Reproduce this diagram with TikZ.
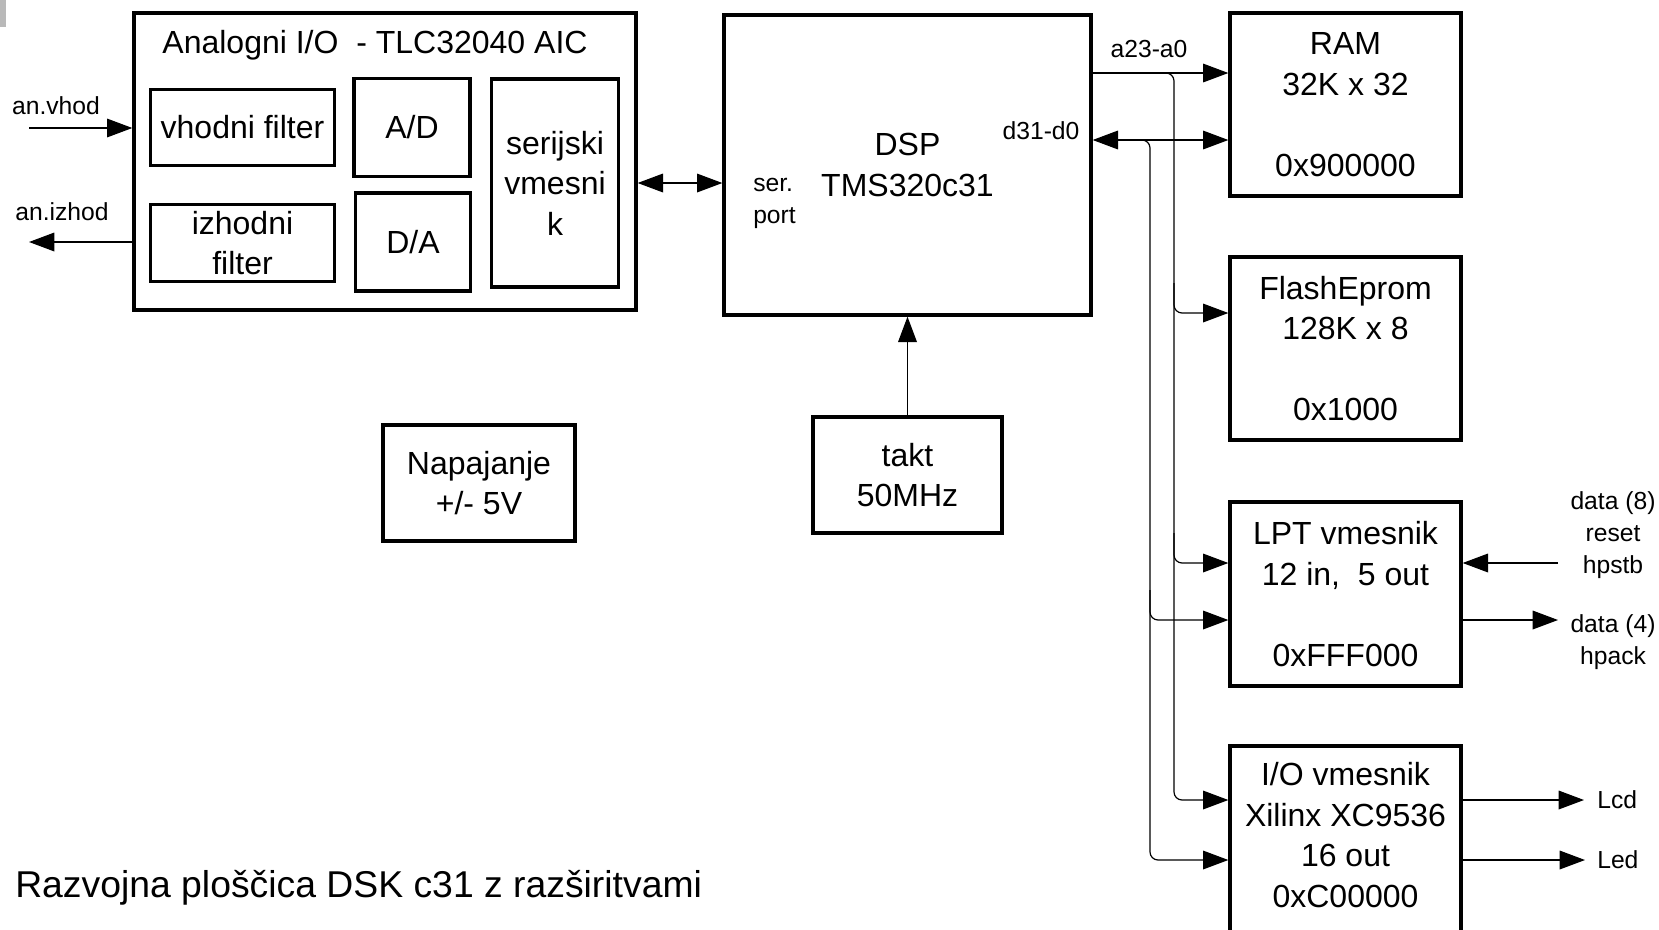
\documentclass[tikz,border=0pt]{standalone}
\usepackage{fontspec}
\setmainfont{Liberation Sans}
\usetikzlibrary{arrows.meta,calc}
\begin{document}
\begin{tikzpicture}[x=0.75pt,y=-0.75pt,
  box/.style={draw=black, line width=2.5pt, inner sep=0pt, align=center, font=\fontsize{24}{30.4}\selectfont},
  big/.style={font=\fontsize{24}{30.4}\selectfont, align=center, inner sep=0pt},
  small/.style={font=\fontsize{18.5}{24}\selectfont, align=center, inner sep=0pt},
  conn/.style={line width=0.9pt},
  arr/.style={conn, -{Triangle[length=19pt,width=14pt]}},
  barr/.style={conn, {Triangle[length=19pt,width=14pt]}-{Triangle[length=19pt,width=14pt]}},
  bus/.style={arr, rounded corners=6pt}
]
\useasboundingbox (0,0) rectangle (1659,929);
\clip (0,0) rectangle (1659,929);
\fill[gray!55] (0,0) rectangle (6,27);

% analog I/O block
\node[box, minimum width=376.5pt, minimum height=222.75pt] (aic) at (385,161.5) {};
\node[big] (aict) at (375,45) {Analogni I/O\ \ - TLC32040 AIC};
\node[box, minimum width=138pt, minimum height=57pt] (vf) at (242.5,127.5) {vhodni filter};
\node[box, minimum width=138pt, minimum height=57.75pt] (izf) at (242.5,243) {izhodni\\filter};
\node[box, minimum width=87pt, minimum height=73.5pt] (ad) at (412,127.5) {A/D};
\node[box, minimum width=86pt, minimum height=73.5pt] (da) at (413,242) {D/A};
\node[box, minimum width=95.25pt, minimum height=156pt] (ser) at (555,183) {serijski\\vmesni\\k};

% DSP
\node[box, minimum width=275.25pt, minimum height=225pt] (dsp) at (907.5,165) {DSP\\TMS320c31};
\node[small, anchor=west, align=left] (serp) at (753,203) {ser.\\port};
\node[small] (d31) at (1041,131) {d31-d0};
\node[small] (a23) at (1149,49) {a23-a0};

% memories and interfaces
\node[box, minimum width=173.25pt, minimum height=137.25pt] (ram) at (1345.5,104.5) {RAM\\32K x 32\\[30.4pt]0x900000};
\node[box, minimum width=173.25pt, minimum height=137.25pt] (flash) at (1345.5,348.5) {FlashEprom\\128K x 8\\[30.4pt]0x1000};
\node[box, minimum width=173.25pt, minimum height=138pt] (lpt) at (1345.5,594) {LPT vmesnik\\12 in,\ \ 5 out\\[30.4pt]0xFFF000};
\node[box, minimum width=173.25pt, minimum height=180pt] (io) at (1345.5,866) {};
\node[big] (iot) at (1345.5,835) {I/O vmesnik\\Xilinx XC9536\\16 out\\0xC00000};

% power and clock
\node[box, minimum width=144pt, minimum height=87pt] (nap) at (479,483) {Napajanje\\+/- 5V};
\node[box, minimum width=141.75pt, minimum height=87pt] (takt) at (907.5,475) {takt\\50MHz};

% analog in/out
\node[small] (vhod) at (56,106) {an.vhod};
\node[small] (izhod) at (62,212) {an.izhod};
\coordinate (vin) at (29,128);
\coordinate (vout) at (29,242);
\draw[arr] (vin) -- (aic.west |- vin);
\draw[arr] (aic.west |- vout) -- (vout);
\coordinate (ys) at (0,183);
\draw[barr] (aic.east |- ys) -- (dsp.west |- ys);
\draw[arr] (takt.north) -- (dsp.south);

% buses
\coordinate (ab) at (1174,73);
\coordinate (db) at (1150,140);
\coordinate (yF) at (0,313);
\coordinate (yLa) at (0,563);
\coordinate (yLd) at (0,620);
\coordinate (yIa) at (0,800);
\coordinate (yId) at (0,860);
\draw[arr] (dsp.east |- ab) -- (ram.west |- ab);
\draw[barr] (dsp.east |- db) -- (ram.west |- db);
\draw[bus] ($(dsp.east |- ab)+(40,0)$) -- (ab) -- (ab |- yIa) -- (io.west |- yIa);
\draw[bus] ($(ab |- yF)+(0,-30)$) -- (ab |- yF) -- (flash.west |- yF);
\draw[bus] ($(ab |- yLa)+(0,-30)$) -- (ab |- yLa) -- (lpt.west |- yLa);
\draw[bus] ($(db)+(-30,0)$) -- (db) -- (db |- yId) -- (io.west |- yId);
\draw[bus] ($(db |- yLd)+(0,-30)$) -- (db |- yLd) -- (lpt.west |- yLd);

% external LPT and I/O signals
\node[small] (lin) at (1613,535) {data (8)\\reset\\hpstb};
\node[small] (lout) at (1613,642) {data (4)\\hpack};
\coordinate (lpin) at (1558,563);
\coordinate (lpout) at (1558,620);
\draw[arr] (lpin) -- (lpt.east |- lpin);
\draw[arr] (lpt.east |- lpout) -- (lpout);
\node[small, anchor=west] (lcd) at (1597,800) {Lcd};
\node[small, anchor=west] (led) at (1597,860) {Led};
\draw[arr] (io.east |- yIa) -- ($(lcd.west)+(-13,0)$);
\draw[arr] (io.east |- yId) -- ($(led.west)+(-12,0)$);

% caption
\node[font=\fontsize{28}{33}\selectfont, anchor=base west, inner sep=0pt] (cap) at (15,897) {Razvojna ploščica DSK c31 z razširitvami};
\end{tikzpicture}
\end{document}
